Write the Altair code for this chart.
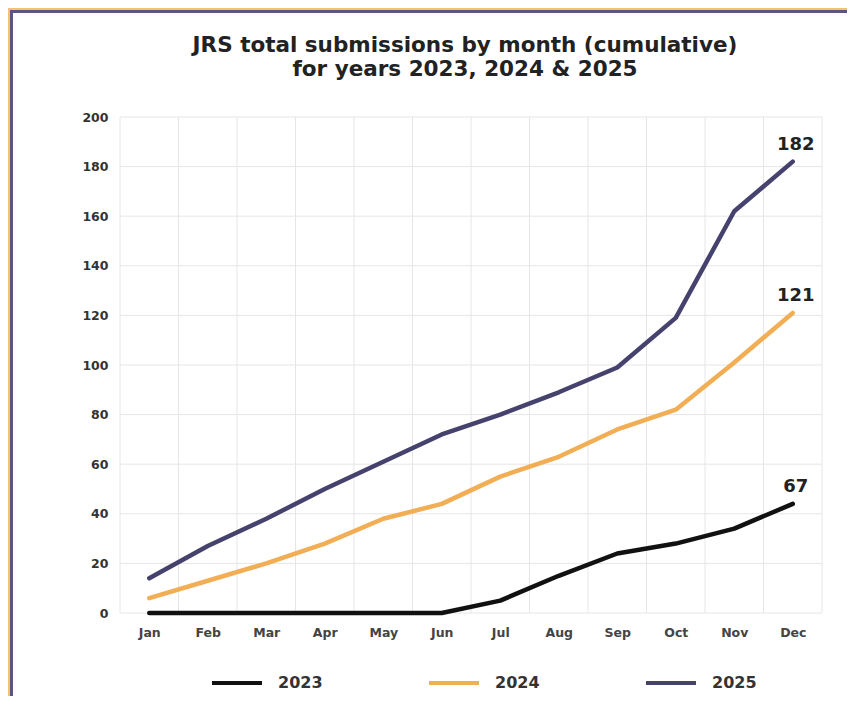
import altair as alt
import pandas as pd

# ---- data ----
months = ["Jan", "Feb", "Mar", "Apr", "May", "Jun", "Jul", "Aug", "Sep", "Oct", "Nov", "Dec"]
month_idx = list(range(1, 13))
years = ["2023", "2024", "2025"]
y2023 = [0, 0, 0, 0, 0, 0, 5, 15, 24, 28, 34, 44]
y2024 = [6, 13, 20, 28, 38, 44, 55, 63, 74, 82, 101, 121]
y2025 = [14, 27, 38, 50, 61, 72, 80, 89, 99, 119, 162, 182]
end_labels = ["67", "121", "182"]
colors = ["#111111", "#F2AE55", "#46426E"]
y_ticks = list(range(0, 201, 20))
month_edges = [m - 0.5 for m in month_idx] + [12.5]

series = {"2023": y2023, "2024": y2024, "2025": y2025}
rows = []
for yr in years:
    for m, v in zip(month_idx, series[yr]):
        rows.append({"month": m, "value": v, "year": yr})
df = pd.DataFrame(rows)
ends = pd.DataFrame({
    "month": [12, 12, 12],
    "value": [series[y][-1] for y in years],
    "label": end_labels,
})

FONT = "DejaVu Sans"
W, H = 702, 496
PAD = {"left": 112, "top": 109, "right": 25, "bottom": 83}

xscale = alt.Scale(domain=[0.5, 12.5], nice=False, zero=False)
yscale = alt.Scale(domain=[0, 200], nice=False)
x_axis = alt.Axis(values=month_idx, labelExpr=f"{months}[datum.value - 1]", grid=False,
                  ticks=False, domain=False, labelPadding=13, labelFontSize=12.5, labelFont=FONT,
                  labelColor="#444444", labelFontWeight="bold", title=None, zindex=1)
y_axis = alt.Axis(values=y_ticks, grid=False, ticks=False, domain=False, labelPadding=12,
                  labelFontSize=12.5, labelFont=FONT, labelColor="#333333",
                  labelFontWeight="bold", title=None, zindex=1)

panel = alt.Chart(pd.DataFrame({"k": [0]})).mark_rect(
    fill="white", stroke="#5B5680", strokeWidth=3
).encode(
    x=alt.value(-108.5), x2=alt.value(W + 40),
    y=alt.value(-105.5), y2=alt.value(H + 100),
)

vgrid = alt.Chart(pd.DataFrame({"month": month_edges})).mark_rule(
    color="#E6E6E6", strokeWidth=1
).encode(x=alt.X("month:Q", scale=xscale, axis=x_axis))

hgrid = alt.Chart(pd.DataFrame({"value": y_ticks})).mark_rule(
    color="#E6E6E6", strokeWidth=1
).encode(y=alt.Y("value:Q", scale=yscale, axis=y_axis))

lines = alt.Chart(df).mark_line(strokeWidth=4.5, interpolate="linear", strokeCap="round",
                                strokeJoin="round").encode(
    x=alt.X("month:Q", scale=xscale, axis=x_axis),
    y=alt.Y("value:Q", scale=yscale, axis=y_axis),
    color=alt.Color("year:N", scale=alt.Scale(domain=years, range=colors),
                    legend=alt.Legend(orient="none", legendX=90, legendY=539,
                                      direction="horizontal", title=None,
                                      symbolType="stroke", symbolSize=2500,
                                      symbolStrokeWidth=4, labelFontSize=16,
                                      labelFontWeight="bold",
                                      labelFont=FONT, labelColor="#333333",
                                      labelOffset=14, columnPadding=98, padding=0,
                                      zindex=2)),
)

labels = alt.Chart(ends).mark_text(
    fontSize=18, fontWeight="bold", font=FONT, color="#222222", dx=3, dy=-17
).encode(
    x=alt.X("month:Q", scale=xscale, axis=x_axis),
    y=alt.Y("value:Q", scale=yscale, axis=y_axis),
    text="label:N",
)

chart = alt.layer(panel, vgrid, hgrid, lines, labels).properties(
    width=W, height=H,
    autosize=alt.AutoSizeParams(type="none"),
    padding=PAD,
    background="#F2C26E",
    title=alt.Title(
        text=["JRS total submissions by month (cumulative)", "for years 2023, 2024 & 2025"],
        fontSize=21.5, font=FONT, fontWeight="bold", color="#222222",
        lineHeight=24, anchor="middle", frame="group", offset=-70, dx=-6, zindex=2,
    ),
).configure_view(strokeWidth=0)

chart.save("out.html", embed_options={"renderer": "svg", "actions": False})
